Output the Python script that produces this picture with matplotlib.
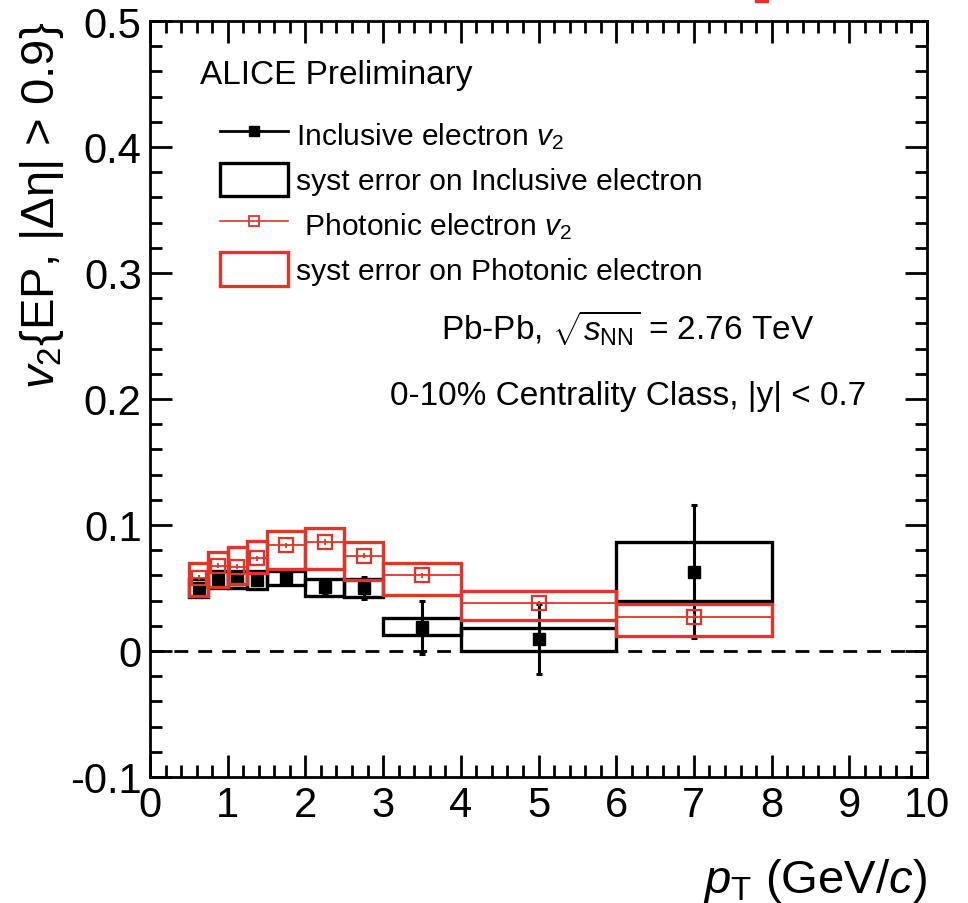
import matplotlib
matplotlib.use("Agg")
import matplotlib.pyplot as plt
from matplotlib.patches import Rectangle, Patch
from matplotlib.lines import Line2D
from matplotlib.ticker import MultipleLocator

plt.rcParams['font.family'] = ['Liberation Sans', 'DejaVu Sans']
plt.rcParams['mathtext.fontset'] = 'custom'
plt.rcParams['mathtext.rm'] = 'Liberation Sans'
plt.rcParams['mathtext.it'] = 'Liberation Sans:italic'
plt.rcParams['mathtext.bf'] = 'Liberation Sans:bold'

RED = '#e3342a'

# pT bins (GeV/c)
bin_lo = [0.5, 0.75, 1.0, 1.25, 1.5, 2.0, 2.5, 3.0, 4.0, 6.0]
bin_hi = [0.75, 1.0, 1.25, 1.5, 2.0, 2.5, 3.0, 4.0, 6.0, 8.0]
pt = [0.625, 0.875, 1.125, 1.375, 1.75, 2.25, 2.75, 3.5, 5.0, 7.0]

# inclusive electron v2
incl_v2 = [0.050, 0.057, 0.057, 0.056, 0.058, 0.051, 0.050, 0.019, 0.0095, 0.063]
incl_stat = [0.003, 0.003, 0.003, 0.003, 0.003, 0.006, 0.009, 0.021, 0.028, 0.053]
incl_sys_lo = [0.043, 0.050, 0.050, 0.049, 0.052, 0.044, 0.043, 0.0127, 0.0, 0.040]
incl_sys_hi = [0.057, 0.0635, 0.0635, 0.0635, 0.0635, 0.057, 0.057, 0.026, 0.018, 0.0865]

# photonic electron v2
phot_v2 = [0.058, 0.0675, 0.0667, 0.0735, 0.084, 0.0865, 0.0755, 0.060, 0.038, 0.027]
phot_stat = [0.002, 0.002, 0.002, 0.002, 0.002, 0.002, 0.002, 0.002, 0.002, 0.002]
phot_sys_lo = [0.044, 0.051, 0.053, 0.062, 0.065, 0.065, 0.056, 0.0445, 0.0246, 0.012]
phot_sys_hi = [0.070, 0.0787, 0.0825, 0.087, 0.095, 0.0976, 0.0865, 0.070, 0.048, 0.037]

fig = plt.figure(figsize=(9.68, 9.04), dpi=100)
ax = fig.add_axes([150 / 968, 126 / 904, 777 / 968, 756 / 904])

ax.axhline(0, color='k', ls=(0, (5, 3.6)), lw=2, zorder=1)

# black syst boxes + points
for lo, hi, slo, shi in zip(bin_lo, bin_hi, incl_sys_lo, incl_sys_hi):
    ax.add_patch(Rectangle((lo, slo), hi - lo, shi - slo, fill=False,
                           edgecolor='k', lw=2.4, zorder=2))
ax.errorbar(pt, incl_v2, yerr=incl_stat, fmt='s', color='k', ms=8.5,
            elinewidth=2.2, capsize=2.5, capthick=2.2, zorder=3)

# red syst boxes + points
for lo, hi, slo, shi in zip(bin_lo, bin_hi, phot_sys_lo, phot_sys_hi):
    ax.add_patch(Rectangle((lo, slo), hi - lo, shi - slo, fill=False,
                           edgecolor=RED, lw=2.4, zorder=4))
xerr = [(h - l) / 2 for l, h in zip(bin_lo, bin_hi)]
ax.errorbar(pt, phot_v2, xerr=xerr, yerr=phot_stat, fmt='s', color=RED,
            mfc='none', mec=RED, ms=10, mew=1.6, elinewidth=1.3, zorder=5)

ax.set_xlim(0, 10)
ax.set_ylim(-0.1, 0.5)
ax.xaxis.set_major_locator(MultipleLocator(1))
ax.xaxis.set_minor_locator(MultipleLocator(0.2))
ax.yaxis.set_major_locator(MultipleLocator(0.1))
ax.yaxis.set_minor_locator(MultipleLocator(0.02))
ax.set_yticks([-0.1, 0, 0.1, 0.2, 0.3, 0.4, 0.5])
ax.set_yticklabels(['-0.1', '0', '0.1', '0.2', '0.3', '0.4', '0.5'])
ax.set_xticks(range(0, 11))
ax.set_xticklabels([str(i) for i in range(0, 11)])

ax.tick_params(which='both', direction='in', top=True, right=True, width=2,
               labelsize=30)
ax.tick_params(which='major', length=16)
ax.tick_params(which='minor', length=8.5)
ax.tick_params(axis='x', pad=6)
ax.tick_params(axis='y', pad=6)
for s in ax.spines.values():
    s.set_linewidth(2)

ax.set_xlabel(r'$p_{\rm T}$ (GeV/$c$)', fontsize=34, loc='right')
ax.xaxis.set_label_coords(1.0, -0.104)
ax.set_ylabel('$v_{2}${EP, |Δη| > 0.9}', fontsize=34, loc='top')
ax.yaxis.set_label_coords(-0.108, 1.0)

ax.text(0.064, 0.929, 'ALICE Preliminary', transform=ax.transAxes,
        fontsize=24, va='center', ha='left')
ax.text(0.615, 0.595, r'Pb-Pb, $\sqrt{s_{\rm NN}}$ = 2.76 TeV',
        transform=ax.transAxes, fontsize=24, va='center', ha='center')
ax.text(0.615, 0.505, '0-10% Centrality Class, |y| < 0.7',
        transform=ax.transAxes, fontsize=24, va='center', ha='center')

handles = [
    Line2D([], [], color='k', lw=2, marker='s', ms=7),
    Patch(facecolor='none', edgecolor='k', lw=2.4),
    Line2D([], [], color=RED, lw=1.2, marker='s', ms=7, mfc='none', mew=1.3),
    Patch(facecolor='none', edgecolor=RED, lw=2.4),
]
labels = ['Inclusive electron $v_{2}$', 'syst error on Inclusive electron',
          ' Photonic electron $v_{2}$', 'syst error on Photonic electron']
ax.legend(handles, labels, loc='upper left', bbox_to_anchor=(0.09, 0.872),
          frameon=False, fontsize=21.6, handlelength=2.28, handleheight=1.35,
          labelspacing=0.37, handletextpad=0.27, borderpad=0, borderaxespad=0)

# red fragment cut at the top edge of the picture
fig.add_artist(Rectangle((755 / 968, 1 - 3 / 904), 13 / 968, 3 / 904,
                         transform=fig.transFigure, color=RED))

fig.savefig('out.png', dpi=100)
